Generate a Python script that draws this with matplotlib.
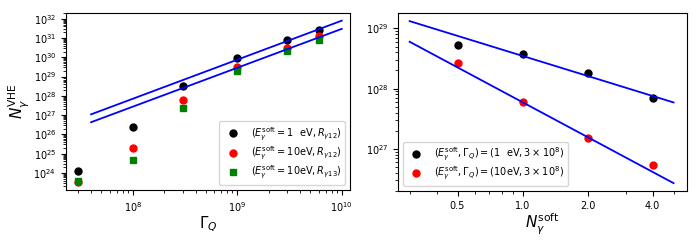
import matplotlib.pyplot as plt
from matplotlib.ticker import LogLocator, NullFormatter, FixedLocator, FixedFormatter

# left panel: N_gamma^VHE vs Gamma_Q
gamma_q = [3e7, 1e8, 3e8, 1e9, 3e9, 6e9]
n_1ev_r12 = [1.2e24, 2.3e26, 3.4e28, 9e29, 7.5e30, 2.7e31]
n_10ev_r12 = [3.2e23, 2e25, 5.8e27, 3e29, 3.2e30, 1.3e31]
n_10ev_r13 = [3.8e23, 4.6e24, 2.3e27, 2e29, 2.2e30, 7.8e30]
fit_gamma = [4e7, 1e10]
fit_left_upper = [1.1e27, 8e31]
fit_left_lower = [4.3e26, 3e31]

# right panel: N_gamma^VHE vs N_gamma^soft
n_soft = [0.5, 1.0, 2.0, 4.0]
n_soft_1ev = [5.2e28, 3.7e28, 1.8e28, 6.9e27]
n_soft_10ev = [2.7e28, 5.9e27, 1.5e27, 5.3e26]
fit_soft = [0.3, 5.0]
fit_right_upper = [1.32e29, 5.9e27]
fit_right_lower = [6e28, 2.7e26]
soft_ticklabels = ['0.5', '1.0', '2.0', '4.0']

plt.rcParams['font.size'] = 7
plt.rcParams['xtick.labelsize'] = 7
plt.rcParams['ytick.labelsize'] = 7

fig = plt.figure(figsize=(7, 2.45), dpi=100)
ax1 = fig.add_axes([66 / 700, 1 - 190 / 245, 284 / 700, 177 / 245])
ax2 = fig.add_axes([398 / 700, 1 - 191 / 245, 289 / 700, 178 / 245])

ax1.plot(gamma_q, n_1ev_r12, 'o', color='black', ms=5,
         label=r'$(E_\gamma^{\rm soft}=1\ \ {\rm eV}, R_{\gamma 12})$')
ax1.plot(gamma_q, n_10ev_r12, 'o', color='red', ms=5,
         label=r'$(E_\gamma^{\rm soft}=10{\rm eV}, R_{\gamma 12})$')
ax1.plot(gamma_q, n_10ev_r13, 's', color='green', ms=5,
         label=r'$(E_\gamma^{\rm soft}=10{\rm eV}, R_{\gamma 13})$')
ax1.plot(fit_gamma, fit_left_upper, '-', color='blue', lw=1.3)
ax1.plot(fit_gamma, fit_left_lower, '-', color='blue', lw=1.3)
ax1.set_xscale('log')
ax1.set_yscale('log')
ax1.set_xlim(2.3e7, 1.2e10)
ax1.set_ylim(1.3e23, 2e32)
ax1.yaxis.set_major_locator(LogLocator(base=10, numticks=30))
ax1.yaxis.set_minor_locator(LogLocator(base=10, subs='auto', numticks=100))
ax1.yaxis.set_minor_formatter(NullFormatter())
ax1.set_xlabel(r'$\Gamma_Q$', fontsize=11, labelpad=1)
ax1.set_ylabel(r'$N_\gamma^{\rm VHE}$', fontsize=11, labelpad=1)
ax1.legend(loc='lower right', fontsize=7, labelspacing=0.2)

ax2.plot(n_soft, n_soft_1ev, 'o', color='black', ms=5,
         label=r'$(E_\gamma^{\rm soft}, \Gamma_Q)=(1\ \ {\rm eV}, 3\times10^8)$')
ax2.plot(n_soft, n_soft_10ev, 'o', color='red', ms=5,
         label=r'$(E_\gamma^{\rm soft}, \Gamma_Q)=(10{\rm eV}, 3\times10^8)$')
ax2.plot(fit_soft, fit_right_upper, '-', color='blue', lw=1.3)
ax2.plot(fit_soft, fit_right_lower, '-', color='blue', lw=1.3)
ax2.set_xscale('log')
ax2.set_yscale('log')
ax2.set_xlim(0.265, 5.77)
ax2.set_ylim(2e26, 1.8e29)
ax2.xaxis.set_major_locator(FixedLocator(n_soft))
ax2.xaxis.set_major_formatter(FixedFormatter(soft_ticklabels))
ax2.xaxis.set_minor_formatter(NullFormatter())
ax2.yaxis.set_minor_formatter(NullFormatter())
ax2.set_xlabel(r'$N_\gamma^{\rm soft}$', fontsize=11, labelpad=1)
ax2.legend(loc='lower left', fontsize=7, labelspacing=0.2)

fig.savefig('out.png', dpi=100)
